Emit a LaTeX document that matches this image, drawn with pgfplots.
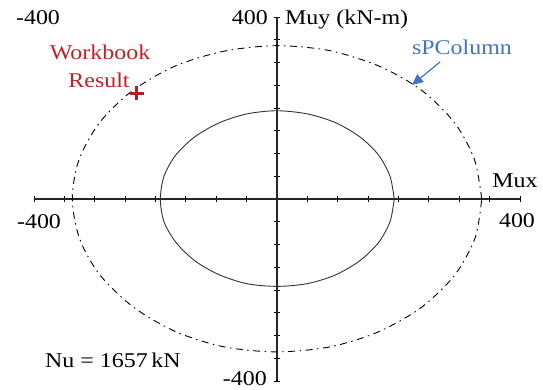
\documentclass[border=0pt]{standalone}
\usepackage{pgfplots}
\pgfplotsset{compat=1.18}
\usepackage{fontspec}
\setmainfont{Liberation Serif}[FakeStretch=1.14]
\usetikzlibrary{arrows.meta}
\definecolor{wbred}{RGB}{200,30,35}
\definecolor{spblue}{RGB}{68,114,196}

\begin{document}
\begin{tikzpicture}[font=\fontsize{21}{25}\selectfont]
\begin{axis}[
  at={(0pt,0pt)}, anchor=south west,
  scale only axis, width=486pt, height=364pt,
  xmin=-400, xmax=400, ymin=-400, ymax=400,
  axis lines=center,
  axis line style={-, black!85, line width=1.2pt},
  xtick={-400,-350,...,400}, ytick={-400,-350,...,400},
  xticklabel={\relax}, yticklabel={\relax},
  tick align=center, major tick length=6pt,
  tick style={black, line width=0.9pt},
  clip=false,
]
% outer interaction contour (sPColumn)
\addplot[black, line width=0.9pt, smooth, dash pattern=on 7pt off 4.5pt on 1.5pt off 4.5pt] coordinates {
  (337,0) (325,87) (292,168) (237,240) (168,292) (87,326) (0,337)
  (-87,325) (-168,292) (-238,238) (-292,168) (-326,86) (-337,0)
  (-325,-87) (-292,-166) (-236,-238) (-166,-292) (-87,-325) (0,-336)
  (87,-325) (165,-293) (236,-240) (292,-168) (326,-86) (337,0)
};
% inner contour
\addplot[black!80, line width=0.9pt, smooth] coordinates {
  (193,0) (186,50) (167,97) (136,137) (96,168) (50,187) (0,194)
  (-50,187) (-96,167) (-136,136) (-167,96) (-186,50) (-192,0)
  (-186,-50) (-166,-96) (-135,-136) (-96,-166) (-50,-186) (0,-192)
  (50,-186) (96,-167) (136,-136) (167,-96) (186,-50) (193,0)
};
% workbook result point
\addplot[wbred!90!black, only marks, mark=+, mark size=7pt, line width=3pt] coordinates {(-231,232)};
\end{axis}
% axis annotations
\node[anchor=base] at (4pt,356pt) {-400};
\node[anchor=base east, inner sep=0pt] at (234pt,356pt) {400};
\node[anchor=base west, inner sep=0pt] at (251pt,356pt) {Muy (kN-m)};
\node[anchor=base] at (481pt,194pt) {Mux};
\node[anchor=base] at (483pt,154pt) {400};
\node[anchor=base] at (5pt,153pt) {-400};
\node[anchor=base east, inner sep=0pt] at (233pt,-4pt) {-400};
\node[anchor=base west, inner sep=0pt] at (11pt,14pt) {Nu = 1657\,kN};
\node[anchor=base, text=wbred] at (66pt,321pt) {Workbook};
\node[anchor=base, text=wbred] at (65pt,294pt) {Result};
\node[anchor=base, text=spblue] at (428pt,326pt) {sPColumn};
\draw[spblue, line width=1.2pt, -{Triangle[length=11pt,width=10pt]}] (406pt,319pt) -- (378pt,296pt);
\pgfresetboundingbox
\useasboundingbox (-34pt,-8pt) rectangle (509pt,381pt);
\end{tikzpicture}
\end{document}
